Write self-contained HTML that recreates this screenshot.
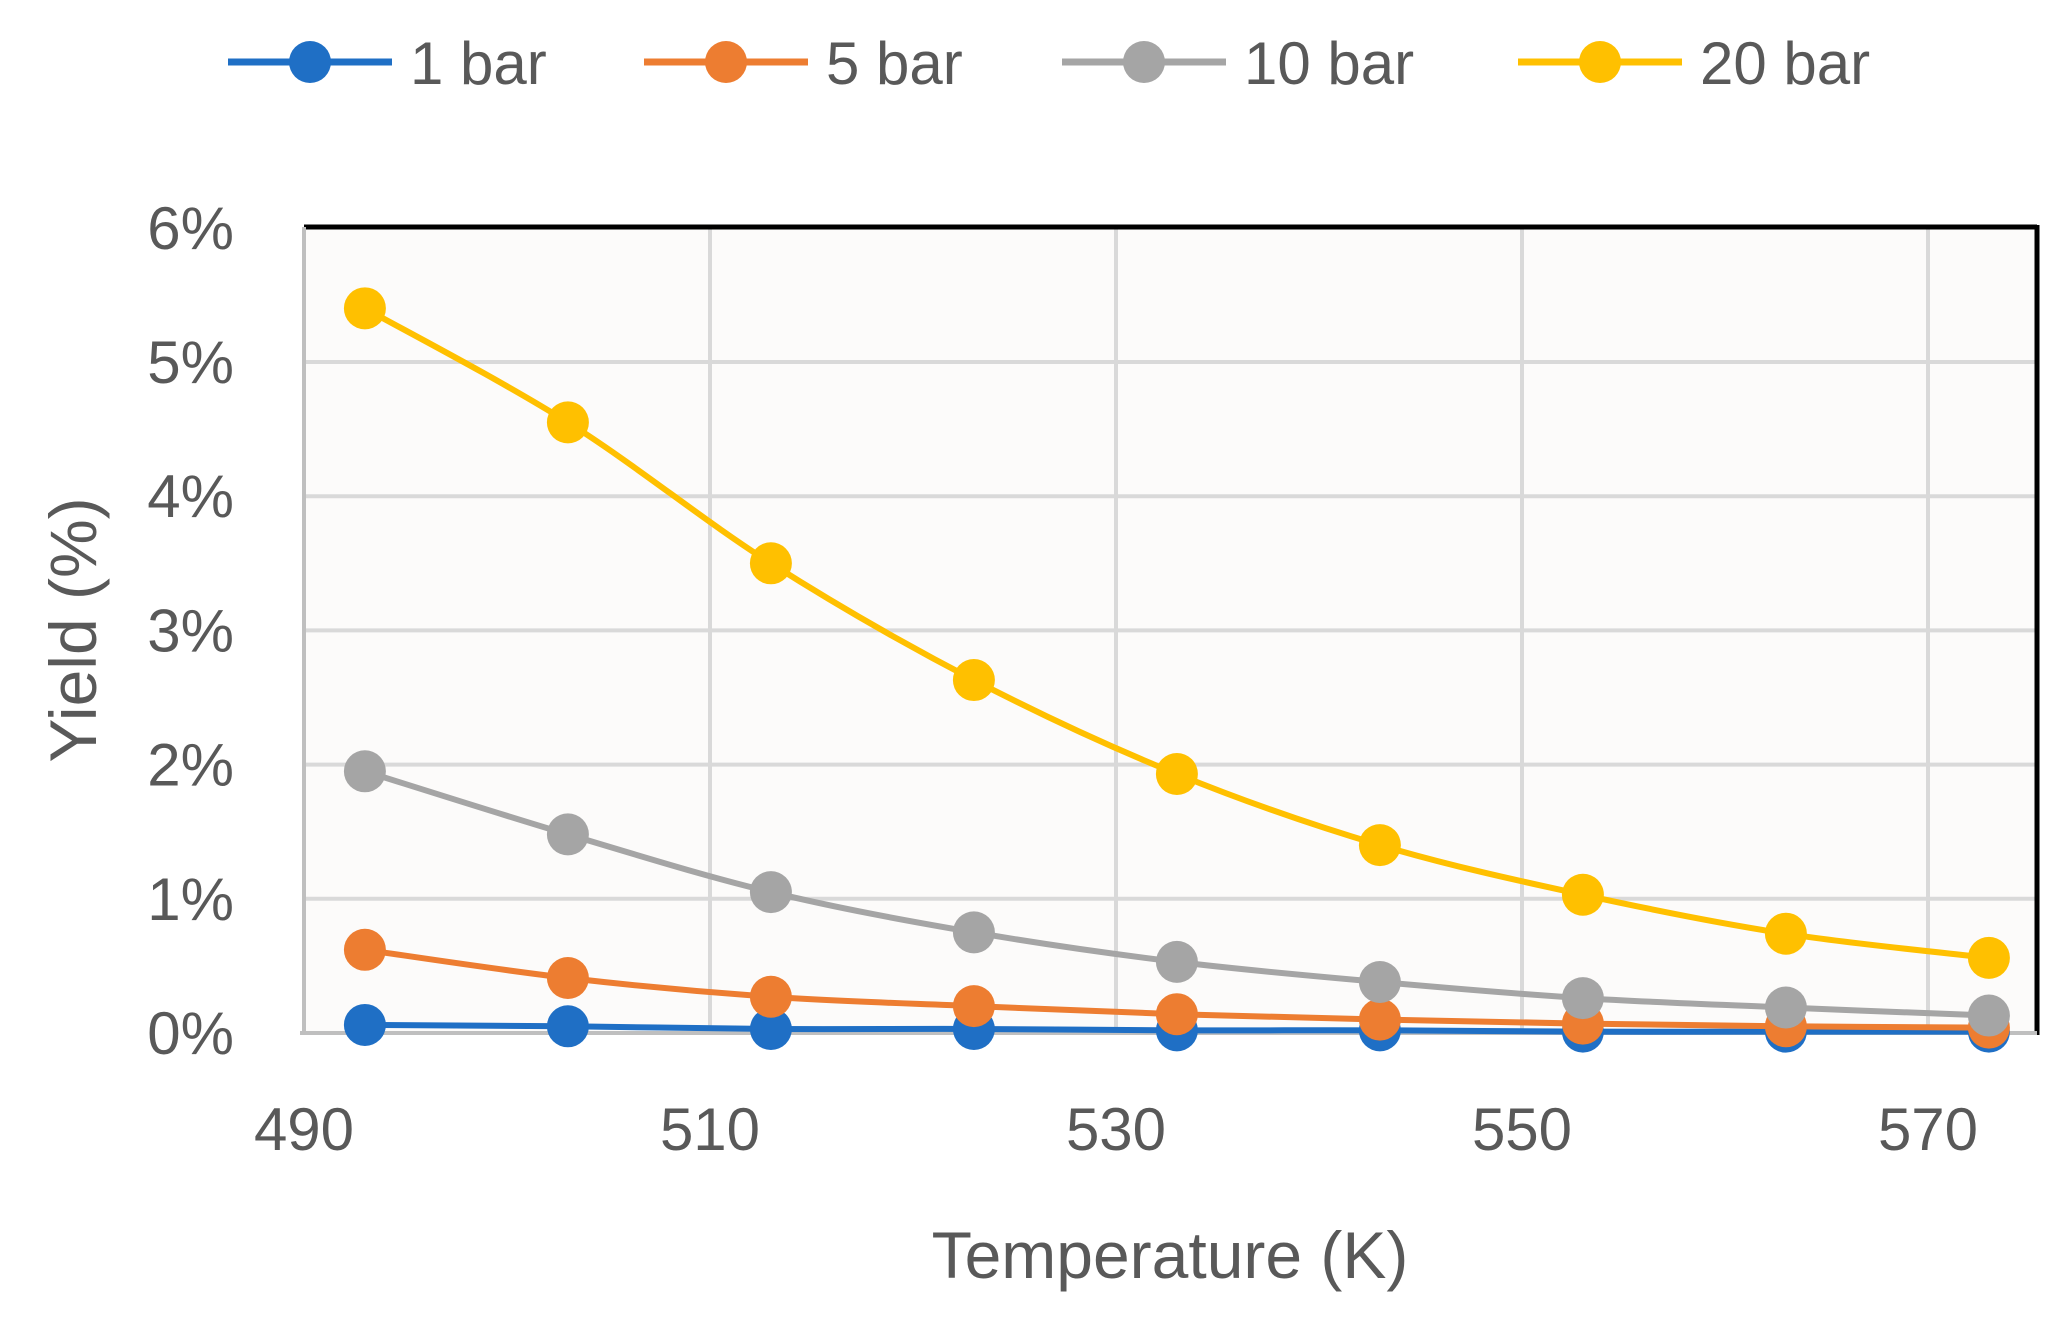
<!DOCTYPE html>
<html><head><meta charset="utf-8"><style>
html,body{margin:0;padding:0;background:#fff;}
svg{display:block;font-family:"Liberation Sans",sans-serif;}
</style></head><body>
<svg id="c" width="2067" height="1326" viewBox="0 0 2067 1326" xmlns="http://www.w3.org/2000/svg">
<rect x="304" y="227" width="1733" height="806" fill="#fcfbfa"/>
<g id="grid" stroke="#d9d9d9" stroke-width="4"></g>
<line x1="304" y1="227" x2="2037" y2="227" stroke="#000" stroke-width="5"/>
<line x1="2037" y1="225" x2="2037" y2="1035" stroke="#000" stroke-width="5"/>
<line x1="304" y1="227" x2="304" y2="1033" stroke="#bfbfbf" stroke-width="4"/>
<line x1="300" y1="1033" x2="2037" y2="1033" stroke="#bfbfbf" stroke-width="4"/>
<g id="series"></g>
<g id="labels" fill="#595959" font-size="60"></g>
<text x="1170" y="1278" fill="#595959" font-size="66" text-anchor="middle">Temperature (K)</text>
<text transform="translate(96,630) rotate(-90)" fill="#595959" font-size="66" text-anchor="middle">Yield (%)</text>
<g id="legend" font-size="60" fill="#595959"></g>
</svg>
<script>
var NS="http://www.w3.org/2000/svg";
function el(p,t,a,txt){var e=document.createElementNS(NS,t);for(var k in a)e.setAttribute(k,a[k]);if(txt!==undefined)e.textContent=txt;p.appendChild(e);return e;}
var X=function(k){return 304+(k-490)*20.3;};
var Y=function(v){return 1033-v*134.2;};
var g=document.getElementById('grid'),L=document.getElementById('labels');
for(var i=1;i<=5;i++){el(g,'line',{x1:304,x2:2037,y1:Y(i),y2:Y(i)});}
[510,530,550,570].forEach(function(k){el(g,'line',{x1:X(k),x2:X(k),y1:227,y2:1033});});
for(var i=0;i<=6;i++){el(L,'text',{x:234,y:Y(i)+21,'text-anchor':'end'},i+'%');}
[490,510,530,550,570].forEach(function(k){el(L,'text',{x:X(k),y:1150,'text-anchor':'middle'},k);});
var temps=[493,503,513,523,533,543,553,563,573];
var S=[
 {c:'#ffc000',d:[5.4,4.55,3.5,2.63,1.93,1.4,1.03,0.74,0.56]},
 {c:'#a5a5a5',d:[1.95,1.48,1.05,0.75,0.53,0.38,0.26,0.19,0.13]},
 {c:'#ed7d31',d:[0.62,0.41,0.27,0.2,0.14,0.1,0.07,0.05,0.04]},
 {c:'#1f6fc5',d:[0.06,0.05,0.03,0.03,0.02,0.02,0.01,0.01,0.01]}
];
var sg=document.getElementById('series');
S.slice().reverse().forEach(function(s){
 var p=temps.map(function(t,i){return [X(t),Y(s.d[i])];});
 var d='M'+p[0][0]+','+p[0][1];
 for(var i=0;i<p.length-1;i++){
  var p0=p[i-1]||p[i],p1=p[i],p2=p[i+1],p3=p[i+2]||p2;
  d+=' C'+(p1[0]+(p2[0]-p0[0])/6)+','+(p1[1]+(p2[1]-p0[1])/6)+' '+(p2[0]-(p3[0]-p1[0])/6)+','+(p2[1]-(p3[1]-p1[1])/6)+' '+p2[0]+','+p2[1];
 }
 el(sg,'path',{d:d,fill:'none',stroke:s.c,'stroke-width':6});
 p.forEach(function(q){el(sg,'circle',{cx:q[0],cy:q[1],r:21,fill:s.c});});
});
var lg=document.getElementById('legend');
var items=[[228,'#1f6fc5','1 bar'],[644,'#ed7d31','5 bar'],[1062,'#a5a5a5','10 bar'],[1518,'#ffc000','20 bar']];
items.forEach(function(it){
 el(lg,'line',{x1:it[0],x2:it[0]+164,y1:62,y2:62,stroke:it[1],'stroke-width':7});
 el(lg,'circle',{cx:it[0]+82,cy:62,r:21,fill:it[1]});
 el(lg,'text',{x:it[0]+182,y:84},it[2]);
});
</script>
</body></html>
